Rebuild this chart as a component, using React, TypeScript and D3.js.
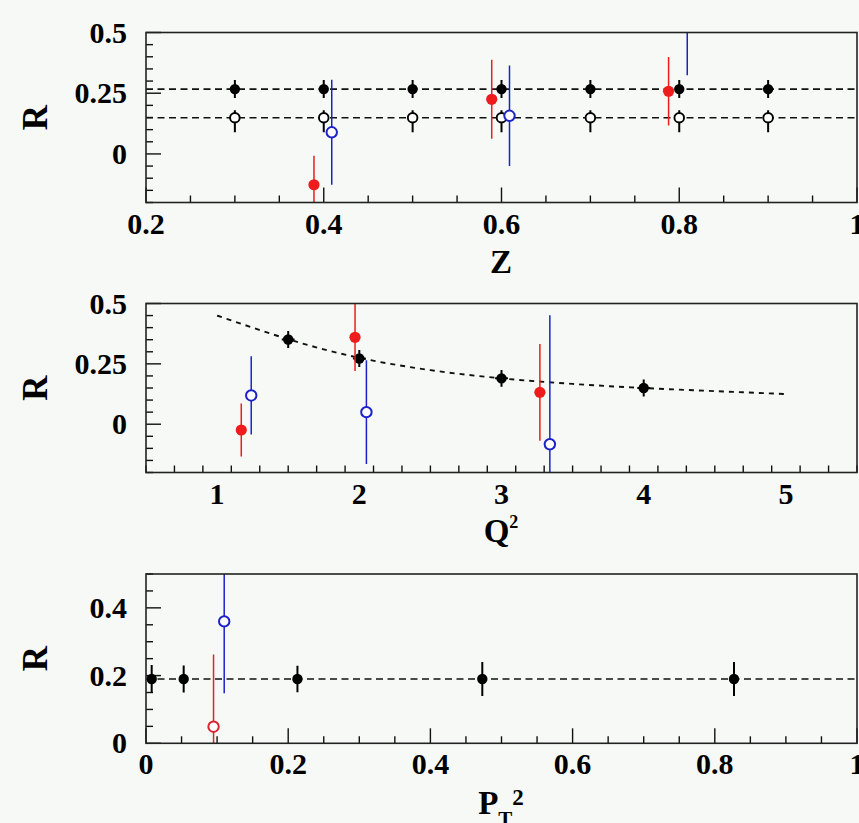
import React from 'react';
import * as d3 from 'd3';

// ---------------- DATA ----------------
// Panel 1 : R versus z
const zLevels = [0.267, 0.149];
const zBlackFilledX = [0.3, 0.4, 0.5, 0.6, 0.7, 0.8, 0.9];
const zBlackFilledR = [0.267, 0.267, 0.267, 0.267, 0.267, 0.267, 0.267];
const zBlackFilledErr = [0.037, 0.037, 0.037, 0.037, 0.037, 0.037, 0.037];
const zBlackOpenX = [0.3, 0.4, 0.5, 0.6, 0.7, 0.8, 0.9];
const zBlackOpenR = [0.149, 0.149, 0.149, 0.149, 0.149, 0.149, 0.149];
const zBlackOpenErrUp = [0.031, 0.031, 0.031, 0.031, 0.031, 0.031, 0.031];
const zBlackOpenErrDown = [0.06, 0.06, 0.06, 0.06, 0.06, 0.06, 0.06];
const zRedX = [0.389, 0.589, 0.788];
const zRedR = [-0.127, 0.225, 0.258];
const zRedErr = [0.12, 0.163, 0.141];
const zBlueX = [0.409, 0.609, 0.809];
const zBlueR = [0.089, 0.157, 0.55];
const zBlueErr = [0.216, 0.207, 0.226];
const zXTicks = [0.2, 0.4, 0.6, 0.8, 1];
const zXTickLabels = ['0.2', '0.4', '0.6', '0.8', '1'];
const zYTicks = [0, 0.25, 0.5];
const zYTickLabels = ['0', '0.25', '0.5'];

// Panel 2 : R versus Q^2
const q2BlackX = [1.5, 2.0, 3.0, 4.0];
const q2BlackR = [0.351, 0.272, 0.19, 0.15];
const q2BlackErr = [0.035, 0.035, 0.035, 0.035];
const q2BlackXErr = [0.045, 0.045, 0.045, 0.045];
const q2RedX = [1.17, 1.97, 3.27];
const q2RedR = [-0.024, 0.36, 0.132];
const q2RedErr = [0.11, 0.14, 0.2];
const q2BlueX = [1.24, 2.05, 3.34];
const q2BlueR = [0.119, 0.05, -0.083];
const q2BlueErr = [0.162, 0.215, 0.534];
const q2CurveX = [1, 1.25, 1.5, 1.75, 2, 2.5, 3, 3.5, 4, 4.5, 5];
const q2CurveR = [0.45, 0.4, 0.352, 0.31, 0.275, 0.224, 0.19, 0.167, 0.15, 0.137, 0.125];
const q2XTicks = [1, 2, 3, 4, 5];
const q2XTickLabels = ['1', '2', '3', '4', '5'];
const q2YTicks = [0, 0.25, 0.5];
const q2YTickLabels = ['0', '0.25', '0.5'];

// Panel 3 : R versus P_T^2
const ptLevel = 0.19;
const ptBlackX = [0.008, 0.053, 0.213, 0.473, 0.827];
const ptBlackR = [0.19, 0.19, 0.19, 0.19, 0.19];
const ptBlackErr = [0.041, 0.04, 0.039, 0.05, 0.05];
const ptRedX = [0.095];
const ptRedR = [0.049];
const ptRedErr = [0.213];
const ptBlueX = [0.11];
const ptBlueR = [0.36];
const ptBlueErr = [0.212];
const ptXTicks = [0, 0.2, 0.4, 0.6, 0.8, 1];
const ptXTickLabels = ['0', '0.2', '0.4', '0.6', '0.8', '1'];
const ptYTicks = [0, 0.2, 0.4];
const ptYTickLabels = ['0', '0.2', '0.4'];

// ---------------- STYLE ----------------
const W = 859;
const H = 823;
const LEFT = 146;
const RIGHT = 857;
const FONT = "'Liberation Serif', 'Times New Roman', serif";
const RED = '#ee1c1c';
const BLUE = '#1c22c8';
const BG = '#f6f9f6';
const TICK_FS = 30;

type Marker = 'filledBlack' | 'openBlack' | 'filledRed' | 'openRed' | 'openBlue';
type Series = {
  marker: Marker;
  x: number[];
  y: number[];
  up: number[];
  down: number[];
  xerr?: number[];
};

type PanelCfg = {
  id: string;
  top: number;
  bottom: number;
  xDomain: [number, number];
  yDomain: [number, number];
  xMinorStep: number;
  yMinorStep: number;
  xTicks: number[];
  xTickLabels: string[];
  yTicks: number[];
  yTickLabels: string[];
  levels: number[];
  curve?: { x: number[]; y: number[] };
  series: Series[];
  title: React.ReactNode;
  titleY: number;
};

function markerStyle(m: Marker) {
  switch (m) {
    case 'filledBlack':
      return { r: 5.2, fill: '#000', stroke: 'none', sw: 0, bar: '#000', bw: 2 };
    case 'openBlack':
      return { r: 4.8, fill: '#fff', stroke: '#000', sw: 1.9, bar: '#000', bw: 2 };
    case 'filledRed':
      return { r: 5.6, fill: RED, stroke: 'none', sw: 0, bar: RED, bw: 1.5 };
    case 'openRed':
      return { r: 5.2, fill: '#fff', stroke: '#dd2233', sw: 2, bar: '#dd2233', bw: 1.5 };
    case 'openBlue':
      return { r: 5.2, fill: '#fff', stroke: BLUE, sw: 2, bar: BLUE, bw: 1.5 };
  }
}

function Panel({ cfg }: { cfg: PanelCfg }) {
  const x = d3.scaleLinear().domain(cfg.xDomain).range([LEFT, RIGHT]);
  const y = d3.scaleLinear().domain(cfg.yDomain).range([cfg.bottom, cfg.top]);
  const eps = 1e-9;
  const xMinor = d3.range(cfg.xDomain[0], cfg.xDomain[1] + eps, cfg.xMinorStep);
  const yMinor = d3.range(cfg.yDomain[0], cfg.yDomain[1] + eps, cfg.yMinorStep);
  const isMajor = (v: number, arr: number[]) => arr.some((a) => Math.abs(a - v) < 1e-6);
  const clipId = 'clip-' + cfg.id;
  const line = d3
    .line<number>()
    .x((_, i) => x(cfg.curve!.x[i]))
    .y((v) => y(v))
    .curve(d3.curveMonotoneX);

  return (
    <g>
      <defs>
        <clipPath id={clipId}>
          <rect x={LEFT} y={cfg.top} width={RIGHT - LEFT} height={cfg.bottom - cfg.top} />
        </clipPath>
      </defs>
      {/* ticks */}
      {xMinor.map((v, i) => {
        const major = isMajor(v, cfg.xTicks);
        return (
          <line key={'xt' + i} x1={x(v)} x2={x(v)} y1={cfg.bottom} y2={cfg.bottom - (major ? 15 : 7)} stroke="#111" strokeWidth={1.4} />
        );
      })}
      {yMinor.map((v, i) => {
        const major = isMajor(v, cfg.yTicks);
        return (
          <line key={'yt' + i} x1={LEFT} x2={LEFT + (major ? 15 : 7)} y1={y(v)} y2={y(v)} stroke="#111" strokeWidth={1.4} />
        );
      })}
      {/* data */}
      <g clipPath={`url(#${clipId})`}>
        {cfg.levels.map((l, i) => (
          <line key={'lv' + i} x1={LEFT} x2={RIGHT} y1={y(l)} y2={y(l)} stroke="#111" strokeWidth={1.6} strokeDasharray="7,4.5" />
        ))}
        {cfg.curve && (
          <path d={line(cfg.curve.y) || ''} fill="none" stroke="#111" strokeWidth={1.9} strokeDasharray="5,5" />
        )}
        {cfg.series.map((s, si) => {
          const st = markerStyle(s.marker);
          return (
            <g key={'s' + si}>
              {s.x.map((xv, i) => (
                <g key={i}>
                  <line x1={x(xv)} x2={x(xv)} y1={y(s.y[i] + s.up[i])} y2={y(s.y[i] - s.down[i])} stroke={st.bar} strokeWidth={st.bw} />
                  {s.xerr && (
                    <line x1={x(xv - s.xerr[i])} x2={x(xv + s.xerr[i])} y1={y(s.y[i])} y2={y(s.y[i])} stroke={st.bar} strokeWidth={st.bw} />
                  )}
                  <circle cx={x(xv)} cy={y(s.y[i])} r={st.r} fill={st.fill} stroke={st.stroke} strokeWidth={st.sw} />
                </g>
              ))}
            </g>
          );
        })}
      </g>
      {/* frame */}
      <rect x={LEFT} y={cfg.top} width={RIGHT - LEFT} height={cfg.bottom - cfg.top} fill="none" stroke="#222" strokeWidth={1.6} />
      {/* tick labels */}
      {cfg.xTicks.map((v, i) => (
        <text key={'xl' + i} x={x(v)} y={cfg.bottom + 31} textAnchor="middle" fontFamily={FONT} fontWeight="bold" fontSize={TICK_FS}>
          {cfg.xTickLabels[i]}
        </text>
      ))}
      {cfg.yTicks.map((v, i) => (
        <text key={'yl' + i} x={127} y={y(v) + 10} textAnchor="end" fontFamily={FONT} fontWeight="bold" fontSize={TICK_FS}>
          {cfg.yTickLabels[i]}
        </text>
      ))}
      {/* y title */}
      <text
        transform={`translate(47, ${(cfg.top + cfg.bottom) / 2}) rotate(-90)`}
        textAnchor="middle"
        fontFamily={FONT}
        fontWeight="bold"
        fontSize={35}
      >
        R
      </text>
      {/* x title */}
      <text x={501} y={cfg.titleY} textAnchor="middle" fontFamily={FONT} fontWeight="bold" fontSize={33}>
        {cfg.title}
      </text>
    </g>
  );
}

const panels: PanelCfg[] = [
  {
    id: 'z',
    top: 32.5,
    bottom: 202.5,
    xDomain: [0.2, 1.0],
    yDomain: [-0.2, 0.5],
    xMinorStep: 0.05,
    yMinorStep: 0.05,
    xTicks: zXTicks,
    xTickLabels: zXTickLabels,
    yTicks: zYTicks,
    yTickLabels: zYTickLabels,
    levels: zLevels,
    series: [
      { marker: 'filledBlack', x: zBlackFilledX, y: zBlackFilledR, up: zBlackFilledErr, down: zBlackFilledErr },
      { marker: 'openBlack', x: zBlackOpenX, y: zBlackOpenR, up: zBlackOpenErrUp, down: zBlackOpenErrDown },
      { marker: 'filledRed', x: zRedX, y: zRedR, up: zRedErr, down: zRedErr },
      { marker: 'openBlue', x: zBlueX, y: zBlueR, up: zBlueErr, down: zBlueErr },
    ],
    title: 'Z',
    titleY: 273,
  },
  {
    id: 'q2',
    top: 303.5,
    bottom: 472.5,
    xDomain: [0.5, 5.5],
    yDomain: [-0.2, 0.5],
    xMinorStep: 0.2,
    yMinorStep: 0.05,
    xTicks: q2XTicks,
    xTickLabels: q2XTickLabels,
    yTicks: q2YTicks,
    yTickLabels: q2YTickLabels,
    levels: [],
    curve: { x: q2CurveX, y: q2CurveR },
    series: [
      { marker: 'filledBlack', x: q2BlackX, y: q2BlackR, up: q2BlackErr, down: q2BlackErr, xerr: q2BlackXErr },
      { marker: 'filledRed', x: q2RedX, y: q2RedR, up: q2RedErr, down: q2RedErr },
      { marker: 'openBlue', x: q2BlueX, y: q2BlueR, up: q2BlueErr, down: q2BlueErr },
    ],
    title: (
      <>
        <tspan>Q</tspan>
        <tspan fontSize={18} dy={-14}>2</tspan>
      </>
    ),
    titleY: 542,
  },
  {
    id: 'pt',
    top: 574,
    bottom: 743.3,
    xDomain: [0, 1],
    yDomain: [0, 0.5],
    xMinorStep: 0.05,
    yMinorStep: 0.05,
    xTicks: ptXTicks,
    xTickLabels: ptXTickLabels,
    yTicks: ptYTicks,
    yTickLabels: ptYTickLabels,
    levels: [ptLevel],
    series: [
      { marker: 'filledBlack', x: ptBlackX, y: ptBlackR, up: ptBlackErr, down: ptBlackErr },
      { marker: 'openRed', x: ptRedX, y: ptRedR, up: ptRedErr, down: ptRedErr },
      { marker: 'openBlue', x: ptBlueX, y: ptBlueR, up: ptBlueErr, down: ptBlueErr },
    ],
    title: (
      <>
        <tspan>P</tspan>
        <tspan fontSize={21} dy={12}>T</tspan>
        <tspan fontSize={23} dy={-21}>2</tspan>
      </>
    ),
    titleY: 814,
  },
];

export default function App() {
  return (
    <svg width={W} height={H} style={{ position: 'absolute', left: 0, top: 0, display: 'block' }}>
      <rect x={0} y={0} width={W} height={H} fill={BG} />
      {panels.map((p) => (
        <Panel key={p.id} cfg={p} />
      ))}
    </svg>
  );
}
